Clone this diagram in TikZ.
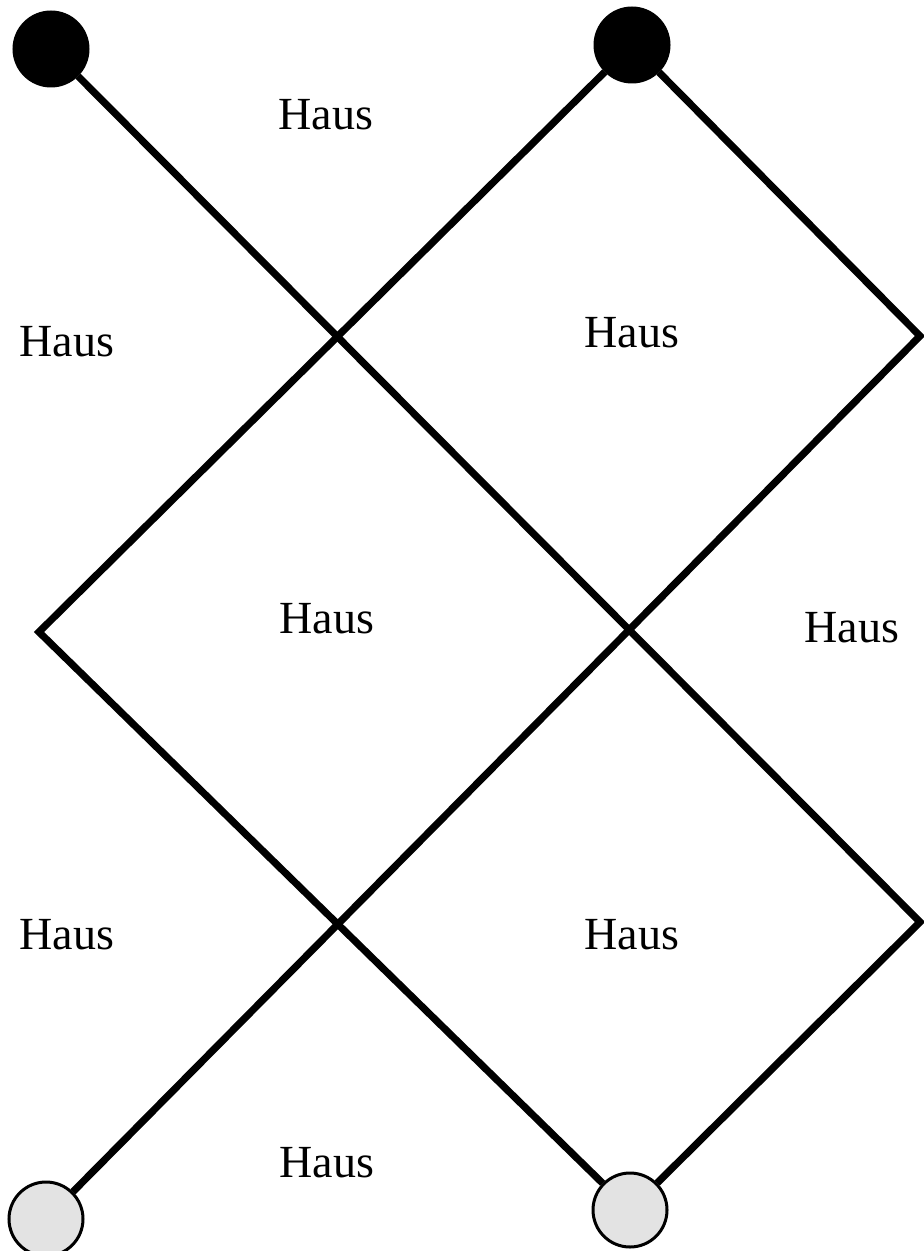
\documentclass[tikz,border=0pt]{standalone}
\usepackage{fontspec}
\setmainfont{Liberation Serif}
\usepackage{tikz}
\usetikzlibrary{positioning}

\begin{document}
\begin{tikzpicture}[
  x=0.25pt, y=-0.25pt,
  endpt/.style={circle, draw=black, line width=0.75pt, inner sep=0pt, minimum size=18.5pt},
  src/.style={endpt, fill=black},
  snk/.style={endpt, fill=black!11},
  strand/.style={line width=1.8pt, draw=black},
  lbl/.style={font=\fontsize{11.5}{14}\selectfont, inner sep=0pt}
]
\useasboundingbox (0,0) rectangle (923,1251);

% end points
\node[src] (tl) at (51,49) {};
\node[src] (tr) at (632,45) {};
\node[snk] (bl) at (46,1219) {};
\node[snk] (br) at (630,1210) {};

% turning points
\coordinate (lmid) at (39,632);
\coordinate (rtop) at (920,336);
\coordinate (rbot) at (920,922);

% strands
\draw[strand] (tl) -- (rbot) -- (br);
\draw[strand] (tr) -- (lmid) -- (br);
\draw[strand] (bl) -- (rtop) -- (tr);

% labels
\node[lbl] (h1) at (326,115) {Haus};
\node[lbl] (h2) at (67,342) {Haus};
\node[lbl] (h3) at (632,333) {Haus};
\node[lbl] (h4) at (327,619) {Haus};
\node[lbl] (h5) at (852,628) {Haus};
\node[lbl] (h6) at (67,935) {Haus};
\node[lbl] (h7) at (632,935) {Haus};
\node[lbl] (h8) at (327,1163) {Haus};

\end{tikzpicture}
\end{document}
